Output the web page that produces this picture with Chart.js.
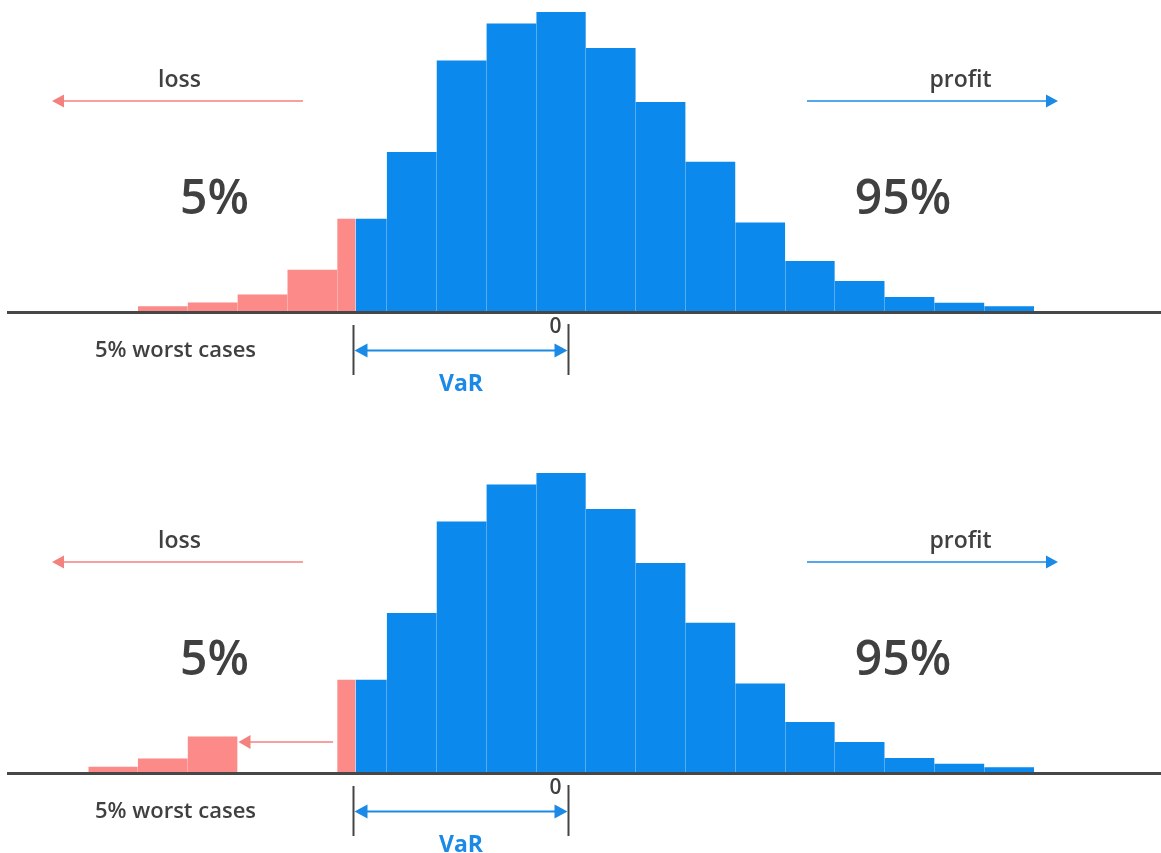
<!DOCTYPE html>
<html>
<head>
<meta charset="utf-8">
<script src="https://cdn.jsdelivr.net/npm/chart.js@4.4.1/dist/chart.umd.min.js"></script>
<style>
  html, body { margin: 0; padding: 0; background: #ffffff; }
  #wrap { position: relative; width: 1161px; height: 853px; overflow: hidden; background: #fff; }
  .panel { position: absolute; left: 0; width: 1161px; }
  canvas { display: block; }
</style>
</head>
<body>
<div id="wrap">
  <div class="panel" style="top:0px;height:461px"><canvas id="c1" width="1161" height="461"></canvas></div>
  <div class="panel" style="top:461px;height:392px"><canvas id="c2" width="1161" height="392"></canvas></div>
</div>
<script>
// ---------------- data ----------------
// histogram bin edges (return, %), 19 bins
const binEdges = [-9.64, -8.64, -7.64, -6.64, -5.64, -4.64, -3.64, -2.64, -1.64, -0.64,
                  0.36, 1.36, 2.36, 3.36, 4.36, 5.36, 6.36, 7.36, 8.36, 9.36];
// Value at Risk threshold (5% quantile)
const varLevel = -4.27;
// profit side (blue) heights: bin 5 (right of VaR) ... bin 18
const blueHeights = [31.1, 53.3, 83.8, 96.2, 100, 88, 70, 50.1, 29.8, 17, 10.3, 5, 3.1, 1.9];
// loss tail (red) heights: bins 0..4 and bin 5 (left of VaR)
const redHeightsTop = [0, 1.9, 3.2, 5.8, 14.1, 31.1];
const redHeightsBottom = [2.1, 4.8, 12.2, 0, 0, 31.1];
// texts
const lossLabel = 'loss';
const profitLabel = 'profit';
const leftShare = '5%';
const rightShare = '95%';
const tailLabel = '5% worst cases';
const varLabel = 'VaR';
const zeroLabel = '0';

// ---------------- helpers ----------------
function redPoints(h) {
  const pts = h.map((v, i) => ({ x: binEdges[i], y: v }));
  pts.push({ x: varLevel, y: 0 });
  return pts;
}
function bluePoints(h) {
  const pts = [{ x: varLevel, y: h[0] }];
  for (let j = 1; j < h.length; j++) pts.push({ x: binEdges[5 + j], y: h[j] });
  pts.push({ x: binEdges[binEdges.length - 1], y: 0 });
  return pts;
}

function arrowLine(ctx, x1, y, x2, color, lw, headLen, headHalf) {
  const dir = Math.sign(x2 - x1);
  ctx.strokeStyle = color; ctx.fillStyle = color; ctx.lineWidth = lw;
  ctx.beginPath(); ctx.moveTo(x1, y); ctx.lineTo(x2 - dir * headLen * 0.8, y); ctx.stroke();
  ctx.beginPath();
  ctx.moveTo(x2, y);
  ctx.lineTo(x2 - dir * headLen, y - headHalf);
  ctx.lineTo(x2 - dir * headLen, y + headHalf);
  ctx.closePath(); ctx.fill();
}

const annot = {
  id: 'annot',
  afterDraw(chart, args, o) {
    const ctx = chart.ctx, xs = chart.scales.x;
    const dark = '#404040', blue = '#1a8ae6', red = '#f3827f';
    ctx.save();
    ctx.textAlign = 'center';
    ctx.textBaseline = 'alphabetic';
    ctx.fillStyle = dark;
    ctx.font = '600 23px "Open Sans"';
    ctx.fillText(lossLabel, 179.5, 87);
    ctx.fillText(profitLabel, 960.5, 87);
    ctx.font = '600 22px "Open Sans"';
    ctx.fillText(tailLabel, 175.5, 357);
    ctx.font = '600 48px "Open Sans"';
    ctx.fillText(leftShare, 214.5, 214);
    ctx.fillText(rightShare, 903, 214);

    arrowLine(ctx, 303, 101, 52, red, 1.6, 12, 6.5);
    arrowLine(ctx, 807, 101, 1058, blue, 1.6, 12, 6.5);

    // VaR bracket
    const xv = Math.round(xs.getPixelForValue(varLevel)) - 1.5;
    const x0 = Math.round(xs.getPixelForValue(0)) + 0.5;
    ctx.strokeStyle = '#444444'; ctx.lineWidth = 2;
    ctx.beginPath(); ctx.moveTo(xv, 325); ctx.lineTo(xv, 375); ctx.stroke();
    ctx.beginPath(); ctx.moveTo(x0, 324); ctx.lineTo(x0, 375); ctx.stroke();
    const ya = 350.5, hl = 13, hh = 7;
    ctx.strokeStyle = blue; ctx.fillStyle = blue; ctx.lineWidth = 2;
    ctx.beginPath(); ctx.moveTo(xv + hl, ya); ctx.lineTo(x0 - hl, ya); ctx.stroke();
    ctx.beginPath(); ctx.moveTo(xv + 1, ya); ctx.lineTo(xv + 1 + hl, ya - hh); ctx.lineTo(xv + 1 + hl, ya + hh); ctx.closePath(); ctx.fill();
    ctx.beginPath(); ctx.moveTo(x0 - 1, ya); ctx.lineTo(x0 - 1 - hl, ya - hh); ctx.lineTo(x0 - 1 - hl, ya + hh); ctx.closePath(); ctx.fill();

    ctx.fillStyle = dark;
    ctx.font = '600 21px "Open Sans"';
    ctx.fillText(zeroLabel, x0 - 13, 333);
    ctx.fillStyle = blue;
    ctx.font = '700 23px "Open Sans"';
    ctx.fillText(varLabel, (xv + x0) / 2, 391);

    if (o && o.tailArrow) {
      const xa = xs.getPixelForValue(-4.72);
      const xb = xs.getPixelForValue(binEdges[3]) + 1;
      arrowLine(ctx, xa, 281, xb, red, 1.4, 12, 7);
    }
    ctx.restore();
  }
};

function makeChart(id, redH, tailArrow) {
  const canvas = document.getElementById(id);
  const H = canvas.height;
  const baseline = 312;
  return new Chart(canvas, {
    type: 'line',
    data: {
      datasets: [
        {
          label: 'loss tail',
          data: redPoints(redH),
          stepped: 'before',
          fill: 'origin',
          backgroundColor: '#fb8a88',
          borderColor: 'rgba(0,0,0,0)',
          borderWidth: 0,
          pointRadius: 0,
          pointHoverRadius: 0
        },
        {
          label: 'profit side',
          data: bluePoints(blueHeights),
          stepped: 'before',
          fill: 'origin',
          backgroundColor: '#0b89ec',
          borderColor: 'rgba(0,0,0,0)',
          borderWidth: 0,
          pointRadius: 0,
          pointHoverRadius: 0
        }
      ]
    },
    options: {
      responsive: false,
      animation: false,
      devicePixelRatio: 1,
      events: [],
      layout: { padding: { left: 8, right: 0, top: 0, bottom: H - baseline } },
      plugins: {
        legend: { display: false },
        tooltip: { enabled: false },
        annot: { tailArrow: tailArrow }
      },
      scales: {
        x: {
          type: 'linear',
          min: -11.25,
          max: 11.91,
          afterBuildTicks: (s) => { s.ticks = binEdges.map(v => ({ value: v })); },
          ticks: { display: false },
          grid: { color: 'rgba(255,255,255,0.3)', lineWidth: 1, drawTicks: false, z: 1 },
          border: { color: '#474747', width: 3, z: 2 }
        },
        y: {
          display: false,
          min: 0,
          max: 104
        }
      }
    },
    plugins: [annot]
  });
}

makeChart('c1', redHeightsTop, false);
makeChart('c2', redHeightsBottom, true);
</script>
</body>
</html>
